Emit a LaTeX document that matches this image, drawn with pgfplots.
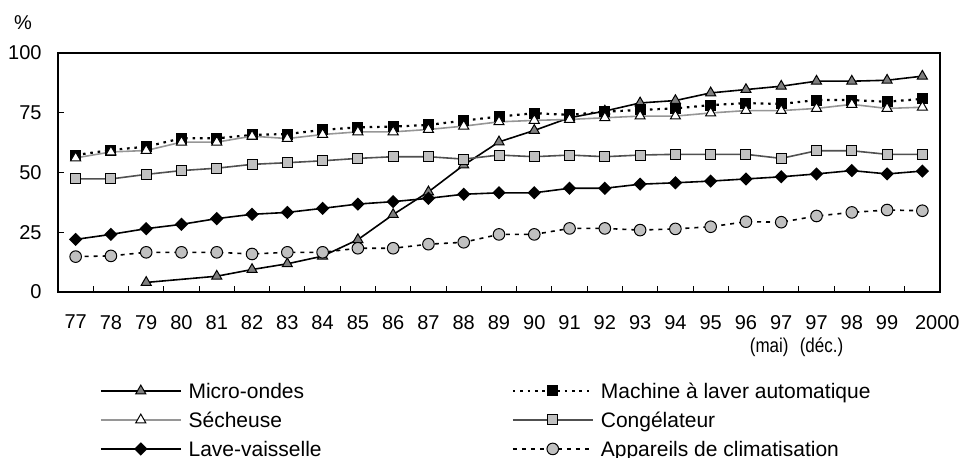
\documentclass[border=0pt]{standalone}
\usepackage{fontspec}
\setmainfont{Liberation Sans}
\newfontfamily\narrowfont[FakeStretch=0.85]{Liberation Sans}
\usepackage{pgfplots}
\pgfplotsset{compat=1.18}

\definecolor{microfill}{HTML}{7F7F7F}
\definecolor{lightfill}{HTML}{C0C0C0}
\definecolor{sechline}{HTML}{969696}
\definecolor{congline}{HTML}{505050}

\begin{document}
\begin{tikzpicture}
\useasboundingbox (-29pt,-83pt) rectangle (453pt,146pt);
\begin{axis}[
	at={(0pt,0pt)}, anchor=south west,
	scale only axis, width=441pt, height=119.5pt,
	xmin=-0.5, xmax=24.5, ymin=0, ymax=100,
	axis line style={line width=0.9pt},
	tick align=inside, tick pos=left,
	major tick length=3pt, minor tick length=3pt,
	tick style={line width=0.5pt, black},
	ytick={0,25,50,75,100},
	xtick={0,...,24},
	major x tick style={draw=none},
	minor xtick={0.5,1.5,...,23.5},
	xticklabels={77,78,79,80,81,82,83,84,85,86,87,88,89,90,91,92,93,94,95,96,
		{97\\{\narrowfont\hspace*{-12pt}(mai)}},{97\\{\narrowfont\hspace*{5pt}(déc.)}},
		98,99,{\hspace*{15pt}2000}},
	/pgf/number format/assume math mode=true,
	ticklabel style={font=\fontsize{10}{11.5}\selectfont},
	xticklabel style={align=center, yshift=-8pt},
	yticklabel style={xshift=-4.7pt},
	ylabel={\%},
	every axis y label/.style={at={(axis description cs:0,1)}, anchor=center,
		xshift=-17.5pt, yshift=15pt, font=\fontsize{10}{12}\selectfont},
	legend columns=2, legend cell align=left,
	legend style={at={(axis description cs:0.0476,-0.37)}, anchor=north west,
		draw=none, fill=none, inner sep=0pt, outer sep=0pt,
		row sep=4pt, column sep=2.5pt,
		font=\fontsize{10.5}{12}\selectfont,
		nodes={inner sep=1pt, text height=8pt, text depth=0.5pt},
		/tikz/column 2/.append style={column sep=94pt}},
	legend image code/.code={\draw[mark repeat=2,mark phase=2]
		plot coordinates {(0pt,0pt) (20pt,0pt) (40pt,0pt)};},
]
% Micro-ondes (pas de valeur en 80)
\addplot[black, line width=0.8pt, mark=triangle*, mark size=2.9pt,
	mark options={fill=microfill, draw=black, line width=0.5pt, solid}] coordinates {
(2,4.0) (4,6.6) (5,9.4) (6,11.8) (7,15.0) (8,21.9) (9,32.4) (10,41.9) (11,53.1)
(12,62.8) (13,67.6) (14,72.9) (15,75.7) (16,79.1) (17,80.1) (18,83.3) (19,84.7)
(20,86.1) (21,88.2) (22,88.2) (23,88.6) (24,90.3)
};
\addlegendentry{Micro-ondes}
% Machine a laver automatique
\addplot[black, line width=1.1pt, dash pattern=on 1.3pt off 2.4pt, mark=square*, mark size=2.5pt,
	mark options={fill=black, draw=black, line width=0.5pt, solid}] coordinates {
(0,57.3) (1,59.4) (2,60.8) (3,64.3) (4,64.3) (5,65.7) (6,66.1) (7,67.8) (8,68.9)
(9,69.2) (10,69.9) (11,71.7) (12,73.4) (13,74.8) (14,74.1) (15,75.4) (16,76.2)
(17,76.8) (18,78.2) (19,79.0) (20,78.7) (21,80.3) (22,80.3) (23,79.6) (24,80.8)
};
\addlegendentry{Machine à laver automatique}
% Secheuse
\addplot[sechline, line width=0.8pt, mark=triangle*, mark size=2.9pt,
	mark options={fill=white, draw=black, line width=0.5pt, solid}] coordinates {
(0,56.1) (1,58.6) (2,59.2) (3,62.7) (4,62.7) (5,65.2) (6,64.2) (7,65.9) (8,67.0)
(9,67.0) (10,68.0) (11,69.4) (12,71.2) (13,71.8) (14,72.2) (15,72.9) (16,73.6)
(17,73.6) (18,74.9) (19,75.9) (20,75.9) (21,76.8) (22,78.5) (23,76.8) (24,77.3)
};
\addlegendentry{Sécheuse}
% Congelateur
\addplot[congline, line width=0.8pt, mark=square*, mark size=2.5pt,
	mark options={fill=lightfill, draw=black, line width=0.5pt, solid}] coordinates {
(0,47.3) (1,47.3) (2,49.2) (3,50.8) (4,51.8) (5,53.4) (6,54.1) (7,54.9) (8,55.9)
(9,56.6) (10,56.6) (11,55.6) (12,57.3) (13,56.6) (14,57.3) (15,56.6) (16,57.3)
(17,57.6) (18,57.6) (19,57.6) (20,55.9) (21,59.1) (22,59.1) (23,57.6) (24,57.6)
};
\addlegendentry{Congélateur}
% Lave-vaisselle
\addplot[black, line width=0.8pt, mark=square*, mark size=1.95pt,
	mark options={fill=black, draw=black, rotate=45, solid}] coordinates {
(0,22.0) (1,24.1) (2,26.5) (3,28.3) (4,30.7) (5,32.5) (6,33.3) (7,35.0) (8,36.8)
(9,37.8) (10,39.2) (11,40.9) (12,41.5) (13,41.5) (14,43.4) (15,43.4) (16,45.1)
(17,45.7) (18,46.4) (19,47.3) (20,48.2) (21,49.4) (22,50.8) (23,49.4) (24,50.6)
};
\addlegendentry{Lave-vaisselle}
% Appareils de climatisation
\addplot[black, line width=0.8pt, dash pattern=on 2pt off 2.5pt, mark=*, mark size=2.9pt,
	mark options={fill=lightfill, draw=black, line width=0.5pt, solid}] coordinates {
(0,14.8) (1,15.1) (2,16.6) (3,16.6) (4,16.6) (5,15.9) (6,16.6) (7,16.6) (8,18.3)
(9,18.3) (10,20.0) (11,20.8) (12,24.1) (13,24.1) (14,26.6) (15,26.6) (16,25.9)
(17,26.4) (18,27.3) (19,29.4) (20,29.2) (21,31.8) (22,33.3) (23,34.3) (24,34.0)
};
\addlegendentry{Appareils de climatisation}
\end{axis}
\end{tikzpicture}
\end{document}
